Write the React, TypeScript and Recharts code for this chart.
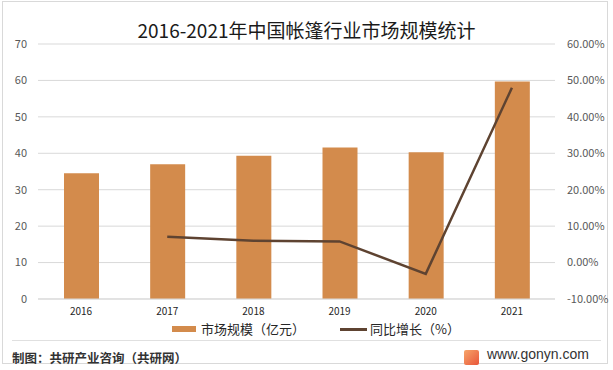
import React from 'react';
import { ComposedChart, Bar, Line, XAxis, YAxis, CartesianGrid } from 'recharts';

const years = ['2016', '2017', '2018', '2019', '2020', '2021'];
const marketSize = [34.5, 37.0, 39.3, 41.6, 40.3, 59.7];
const growth = [null, 7.1, 6.0, 5.8, -3.1, 48.0];
const leftTicks = [0, 10, 20, 30, 40, 50, 60, 70];
const rightTicks = [-10, 0, 10, 20, 30, 40, 50, 60];

const data = years.map((year, i) => ({ year, size: marketSize[i], growth: growth[i] }));

const BAR = '#D38B4C';
const LINE = '#5E4331';
const FONT = '"Noto Sans CJK SC", "Noto Sans", sans-serif';

const App: React.FC = () => {
  return (
    <div style={{ position: 'absolute', left: 0, top: 0, width: 613, height: 370, background: '#fff', fontFamily: FONT }}>
      <div style={{ position: 'absolute', left: 2, top: 1, width: 606, height: 363, border: '1px solid #d9d9d9', boxSizing: 'border-box' }} />
      <div style={{ position: 'absolute', top: 17, left: 0, width: 613, textAlign: 'center', fontSize: 19, color: '#1a1a1a', lineHeight: '26px' }}>
        2016-2021年中国帐篷行业市场规模统计
      </div>
      <div style={{ position: 'absolute', left: 0, top: 0 }}>
        <ComposedChart width={613} height={320} data={data} margin={{ top: 44, right: 0, bottom: 0, left: 0 }}>
          <CartesianGrid vertical={false} stroke="#d9d9d9" yAxisId="left" />
          <XAxis dataKey="year" axisLine={{ stroke: '#d9d9d9' }} tickLine={false} height={21} tick={{ fontSize: 10, fill: '#262626' }} tickMargin={3} />
          <YAxis yAxisId="left" domain={[0, 70]} ticks={leftTicks} width={38} axisLine={false} tickLine={false} tickMargin={5} tick={{ fontSize: 11, fill: '#595959' }} />
          <YAxis yAxisId="right" orientation="right" domain={[-10, 60]} ticks={rightTicks} width={58} axisLine={false} tickLine={false} tickMargin={6}
            tickFormatter={(v: number) => `${v.toFixed(2)}%`} tick={{ fontSize: 11, fill: '#595959', textAnchor: 'start' }} />
          <Bar yAxisId="left" dataKey="size" fill={BAR} barSize={35} isAnimationActive={false} />
          <Line yAxisId="right" dataKey="growth" stroke={LINE} strokeWidth={2.5} dot={false} connectNulls={false} isAnimationActive={false} />
        </ComposedChart>
      </div>
      <div style={{ position: 'absolute', top: 321, left: 172, height: 16, display: 'flex', alignItems: 'center', fontSize: 13, lineHeight: '16px', color: '#262626' }}>
        <span style={{ display: 'inline-block', width: 24, height: 6, background: BAR, marginRight: 5 }} />
        <span style={{ marginRight: 35 }}>市场规模（亿元）</span>
        <span style={{ display: 'inline-block', width: 27, height: 3, background: LINE, marginRight: 3 }} />
        <span>同比增长（%）</span>
      </div>
      <div style={{ position: 'absolute', left: 12, top: 340, width: 589, height: 1, background: '#e0e0e0' }} />
      <div style={{ position: 'absolute', left: 12, top: 348, fontSize: 12.5, fontWeight: 700, color: '#333' }}>
        制图：共研产业咨询（共研网）
      </div>
      <div style={{ position: 'absolute', left: 464, top: 350, width: 15, height: 15, borderRadius: 2, background: 'linear-gradient(135deg, #f6a56a, #e9563a)' }} />
      <div style={{ position: 'absolute', left: 487, top: 346, fontSize: 14, color: '#333', fontFamily: '"Liberation Sans", sans-serif' }}>
        www.gonyn.com
      </div>
    </div>
  );
};

export default App;
